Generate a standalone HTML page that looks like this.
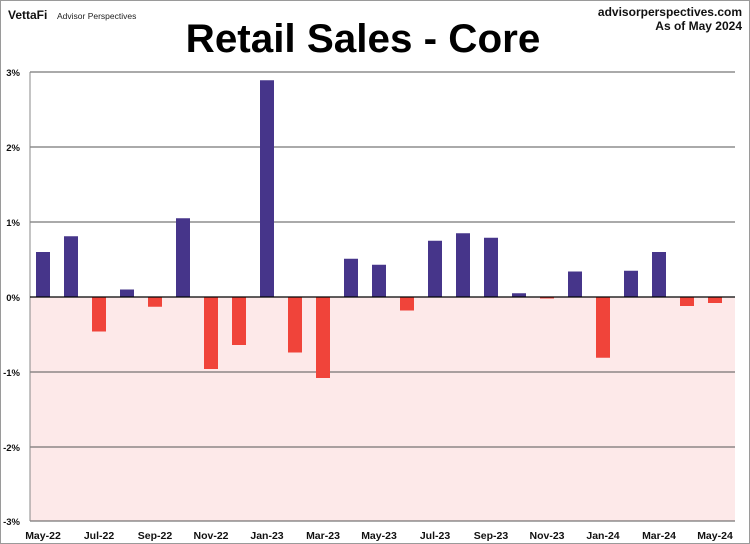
<!DOCTYPE html>
<html><head><style>
body{margin:0;background:#fff;}
svg{display:block;font-family:"Liberation Sans",Arial,sans-serif;}
</style></head><body>
<svg width="750" height="544" xmlns="http://www.w3.org/2000/svg">
<rect x="0.5" y="0.5" width="749" height="543" fill="#fff" stroke="#9a9a9a"/>
<text x="8" y="19" font-size="12" font-weight="bold" fill="#111">VettaFi</text>
<text x="57" y="19" font-size="8.5" fill="#222">Advisor Perspectives</text>
<text x="742" y="16" font-size="12" font-weight="bold" text-anchor="end" fill="#111">advisorperspectives.com</text>
<text x="742" y="30" font-size="12" font-weight="bold" text-anchor="end" fill="#111">As of May 2024</text>
<text x="363" y="52" font-size="40" font-weight="bold" text-anchor="middle" fill="#000" transform="translate(363,0) scale(1.01,1) translate(-363,0)">Retail Sales - Core</text>
<rect x="30" y="297" width="705" height="224" fill="#fde9e9"/>
<g stroke="#555" stroke-width="1">
<line x1="30" y1="72" x2="735" y2="72"/>
<line x1="30" y1="147" x2="735" y2="147"/>
<line x1="30" y1="222" x2="735" y2="222"/>
<line x1="30" y1="372" x2="735" y2="372"/>
<line x1="30" y1="447" x2="735" y2="447"/>
<line x1="30" y1="521" x2="735" y2="521"/>
</g>
<line x1="30" y1="72" x2="30" y2="521" stroke="#888"/>
<g font-size="9.5" font-weight="bold" text-anchor="end" fill="#111">
<text x="20" y="76">3%</text><text x="20" y="151">2%</text><text x="20" y="226">1%</text>
<text x="20" y="301">0%</text><text x="20" y="376">-1%</text><text x="20" y="451">-2%</text><text x="20" y="525">-3%</text>
</g>
<g id="bars"></g>
<line x1="30" y1="297" x2="735" y2="297" stroke="#000" stroke-width="1.2"/>
<g font-size="10.5" font-weight="bold" text-anchor="middle" fill="#111">
<text x="43" y="539">May-22</text><text x="99" y="539">Jul-22</text><text x="155" y="539">Sep-22</text>
<text x="211" y="539">Nov-22</text><text x="267" y="539">Jan-23</text><text x="323" y="539">Mar-23</text>
<text x="379" y="539">May-23</text><text x="435" y="539">Jul-23</text><text x="491" y="539">Sep-23</text>
<text x="547" y="539">Nov-23</text><text x="603" y="539">Jan-24</text><text x="659" y="539">Mar-24</text>
<text x="715" y="539">May-24</text>
</g>
</svg>
<script>
var v=[0.6,0.81,-0.46,0.1,-0.13,1.05,-0.96,-0.64,2.89,-0.74,-1.08,0.51,0.43,-0.18,0.75,0.85,0.79,0.05,-0.02,0.34,-0.81,0.35,0.6,-0.12,-0.08];
var g=document.getElementById('bars'),s='';
v.forEach(function(d,i){var x=36+28*i,h=Math.abs(d)*75,y=d>0?297-h:297;
s+='<rect x="'+x+'" y="'+y+'" width="14" height="'+Math.max(h,1)+'" fill="'+(d>0?'#46358a':'#f0443a')+'"/>';});
g.innerHTML=s;
</script>
</body></html>
